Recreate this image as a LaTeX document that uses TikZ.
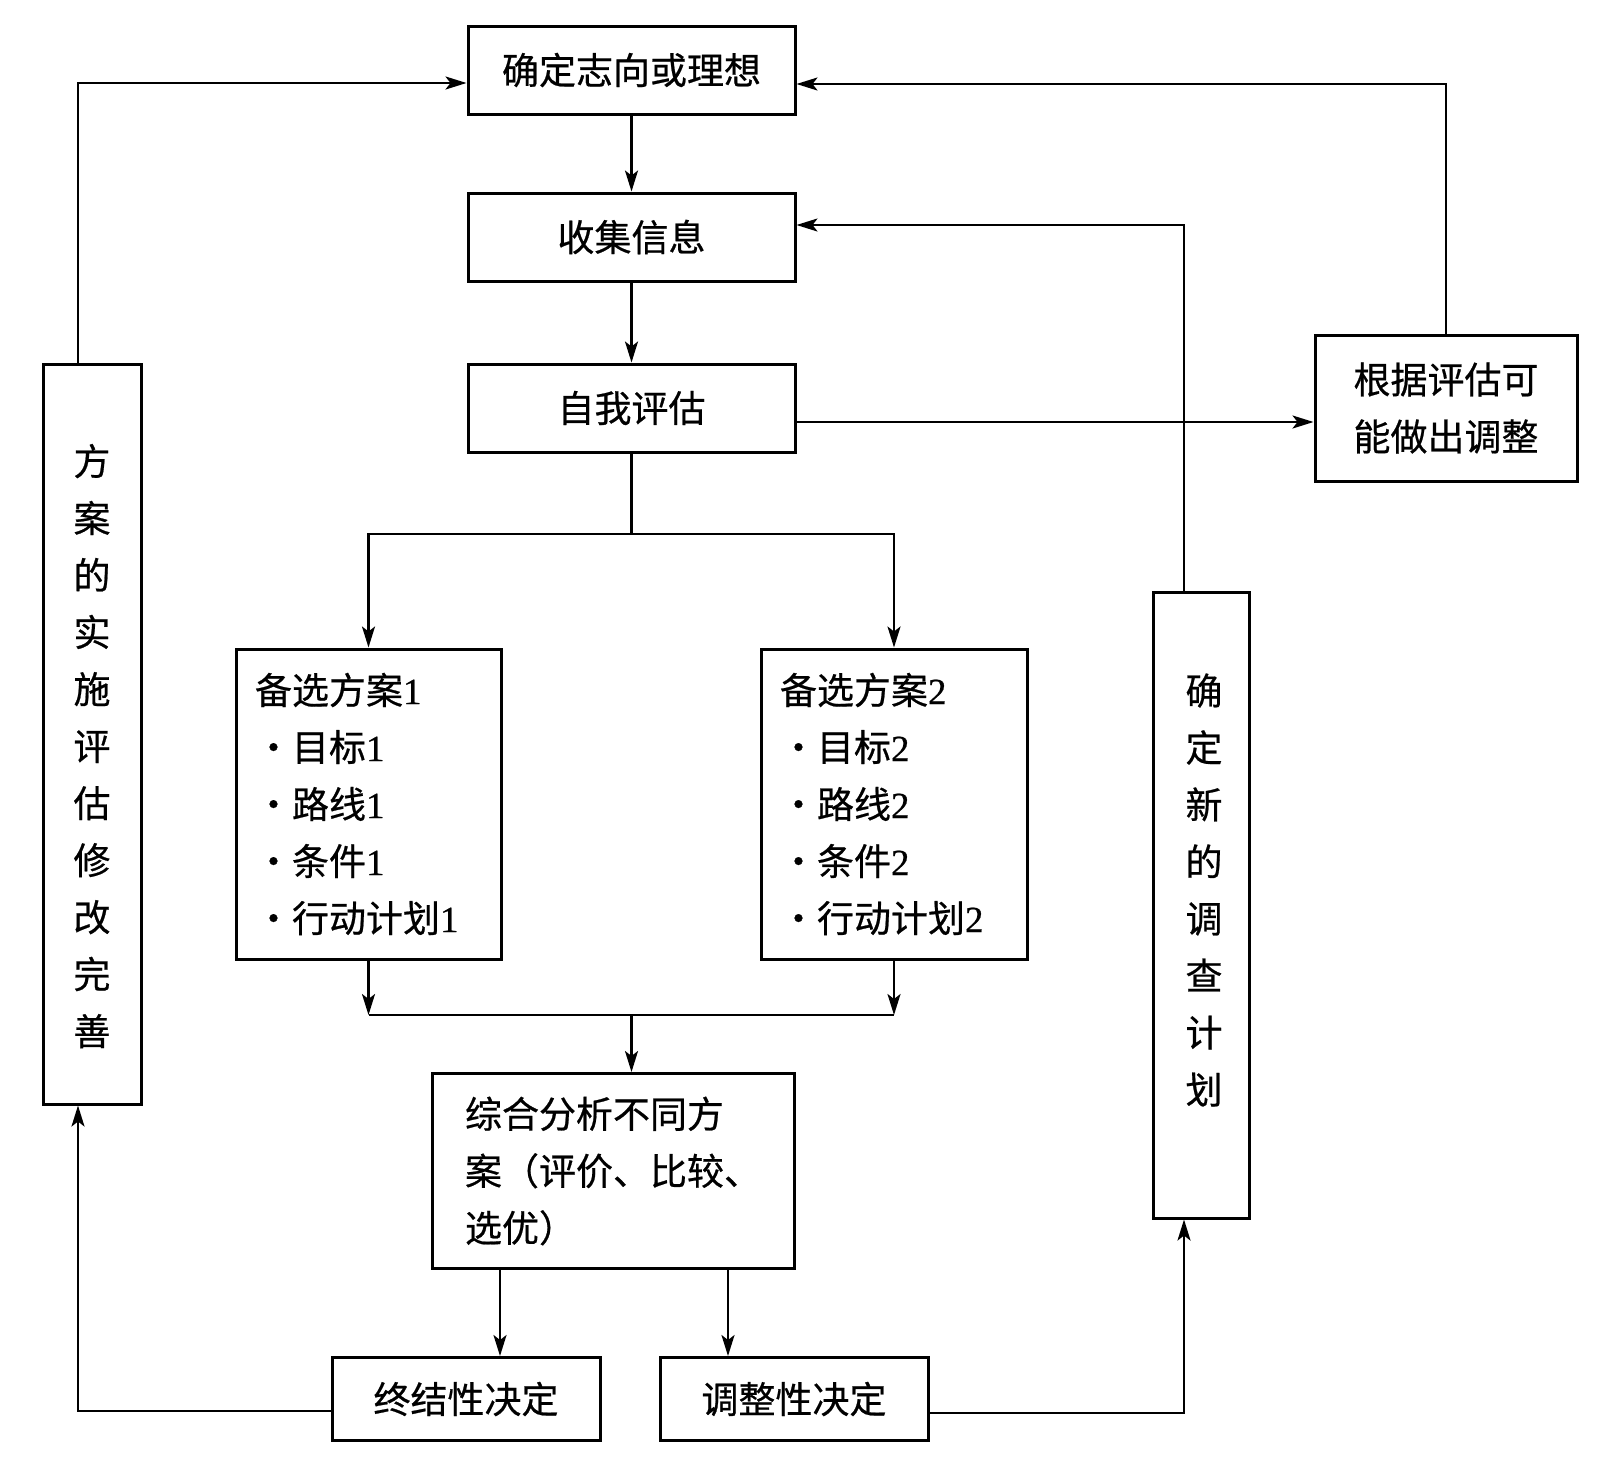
\documentclass[tikz,border=0pt]{standalone}
\usepackage{fontspec}
\setmainfont[FakeBold=0.6]{Noto Sans CJK SC}
\newfontfamily\lat[FakeBold=0.6]{Liberation Serif}
\usetikzlibrary{arrows.meta,calc}
\begin{document}
\begin{tikzpicture}[x=1pt,y=1pt,
  box/.style={draw,line width=3pt,inner sep=0pt,font=\fontsize{37}{57}\selectfont},
  lbl/.style={inner sep=0pt,font=\fontsize{37}{57}\selectfont,align=center},
  conn/.style={line width=2.4pt},
  arr/.style={conn,-{Stealth[length=21pt,width=13pt,inset=5pt]}}]
\useasboundingbox (0,0) rectangle (1621,-1457);
% boxes
\node[box,minimum width=327,minimum height=88] (goal) at (631.5,-70) {确定志向或理想};
\node[box,minimum width=327,minimum height=88] (info) at (631.5,-237) {收集信息};
\node[box,minimum width=327,minimum height=88] (self) at (631.5,-408) {自我评估};
\node[box,minimum width=262,minimum height=146,align=center] (adj) at (1446,-408) {根据评估可\\能做出调整};
\node[box,minimum width=98,minimum height=740] (impl) at (92,-734) {};
\node[lbl] (impltxt) at (92,-746) {方\\案\\的\\实\\施\\评\\估\\修\\改\\完\\善};
\node[box,minimum width=96,minimum height=626] (survey) at (1201,-905) {};
\node[lbl] (surveytxt) at (1204,-890) {确\\定\\新\\的\\调\\查\\计\\划};
\node[box,minimum width=265,minimum height=310,inner xsep=19pt,text width=227pt,align=left] (alt1) at (368.5,-804)
  {备选方案{\lat 1}\\・目标{\lat 1}\\・路线{\lat 1}\\・条件{\lat 1}\\・行动计划{\lat 1}};
\node[box,minimum width=266,minimum height=310,inner xsep=19pt,text width=228pt,align=left] (alt2) at (894,-804)
  {备选方案{\lat 2}\\・目标{\lat 2}\\・路线{\lat 2}\\・条件{\lat 2}\\・行动计划{\lat 2}};
\node[box,minimum width=362,minimum height=195,align=left] (synth) at (613,-1171)
  {综合分析不同方\\案（评价、比较、\\选优）};
\node[box,minimum width=268,minimum height=83] (final) at (466,-1399) {终结性决定};
\node[box,minimum width=268,minimum height=83] (adjust) at (794,-1399) {调整性决定};
% helper coordinates
\coordinate (jtop) at (631.5,-534);
\coordinate (jbot) at (631.5,-1015);
\coordinate (fx) at (500,-1300);
\coordinate (ax) at (728,-1300);
\coordinate (lx) at (78,-1200);
\coordinate (rx) at (1184,-1200);
% connectors
\draw[arr] (goal.south) -- (info.north);
\draw[arr] (info.south) -- (self.north);
\draw[arr] ([yshift=-14pt]self.east) -- ([yshift=-14pt]self.east -| adj.west);
\draw[conn] (self.south) -- (jtop);
\draw[arr] (jtop) -| (alt1.north);
\draw[arr] (jtop) -| (alt2.north);
\draw[arr] (alt1.south) -- (alt1.south |- jbot);
\draw[arr] (alt2.south) -- (alt2.south |- jbot);
\draw[conn] (alt1.south |- jbot) -- (alt2.south |- jbot);
\draw[arr] (jbot) -- (jbot |- synth.north);
\draw[arr] (fx |- synth.south) -- (fx |- final.north);
\draw[arr] (ax |- synth.south) -- (ax |- adjust.north);
\draw[arr] ([yshift=-12pt]final.west) -| (lx |- impl.south);
\draw[arr] ([yshift=-14pt]adjust.east) -| (rx |- survey.south);
\draw[arr] (rx |- survey.north) |- ([yshift=12pt]info.east);
\draw[arr] (adj.north) |- ([yshift=-14pt]goal.east);
\draw[arr] (lx |- impl.north) |- ([yshift=-13pt]goal.west);
\end{tikzpicture}
\end{document}
